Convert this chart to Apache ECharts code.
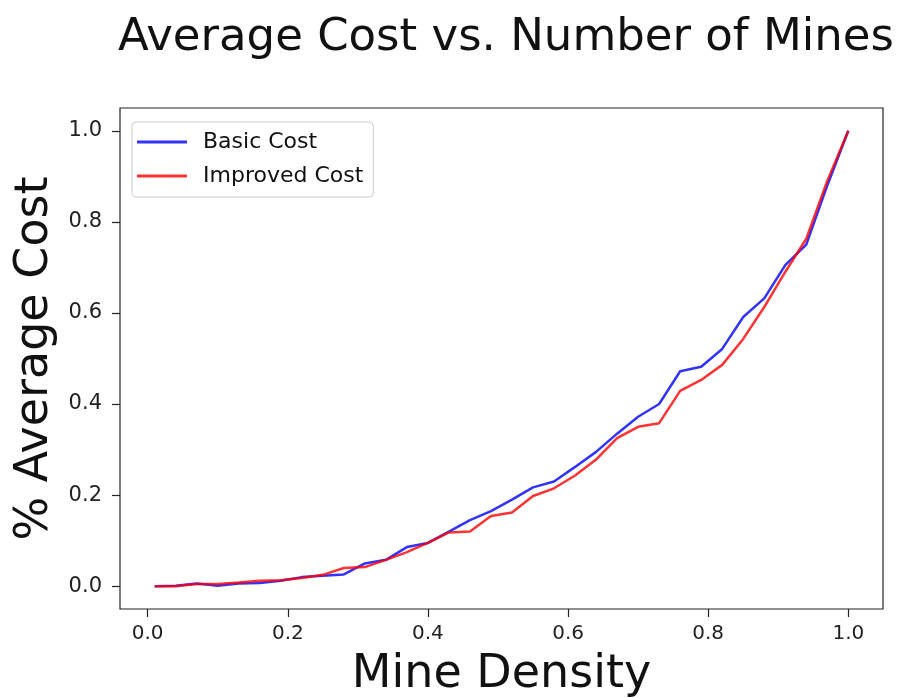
<!DOCTYPE html>
<html>
<head>
<meta charset="utf-8">
<script src="https://cdn.jsdelivr.net/npm/echarts@6/dist/echarts.min.js"></script>
<style>
  html, body { margin: 0; padding: 0; background: #fff; }
  #chart { width: 899px; height: 698px; }
</style>
</head>
<body>
<div id="chart"></div>
<script>
// mine density samples (x)
const density = [
  0.01, 0.04, 0.07, 0.10, 0.13, 0.16, 0.19, 0.22, 0.25, 0.28,
  0.31, 0.34, 0.37, 0.40, 0.43, 0.46, 0.49, 0.52, 0.55, 0.58,
  0.61, 0.64, 0.67, 0.70, 0.73, 0.76, 0.79, 0.82, 0.85, 0.88,
  0.91, 0.94, 0.97, 1.00
];
const basicCost = [
  0.000, 0.001, 0.006, 0.001, 0.006, 0.007, 0.012, 0.020, 0.023, 0.026,
  0.050, 0.058, 0.086, 0.095, 0.120, 0.145, 0.165, 0.190, 0.217, 0.230,
  0.262, 0.295, 0.335, 0.372, 0.400, 0.472, 0.482, 0.521, 0.591, 0.632,
  0.705, 0.750, 0.880, 1.000
];
const improvedCost = [
  0.000, 0.000, 0.005, 0.005, 0.008, 0.012, 0.013, 0.018, 0.025, 0.040,
  0.042, 0.058, 0.075, 0.095, 0.118, 0.120, 0.154, 0.162, 0.198, 0.215,
  0.243, 0.278, 0.325, 0.350, 0.358, 0.429, 0.453, 0.486, 0.543, 0.613,
  0.690, 0.763, 0.890, 1.000
];
const xTicks = [0, 0.2, 0.4, 0.6, 0.8, 1.0];
const yTicks = [0, 0.2, 0.4, 0.6, 0.8, 1.0];

const chart = echarts.init(document.getElementById('chart'));
const font = 'DejaVu Sans';

chart.setOption({
  animation: false,
  title: {
    text: 'Average Cost vs. Number of Mines',
    left: 501,
    textAlign: 'center',
    top: 11,
    textStyle: { fontFamily: font, fontSize: 45, fontWeight: 'normal', color: '#111' }
  },
  legend: {
    orient: 'vertical',
    left: 132,
    top: 122,
    data: ['Basic Cost', 'Improved Cost'],
    icon: 'rect',
    itemWidth: 50,
    itemHeight: 3,
    itemGap: 10,
    padding: [8, 10, 9, 5],
    backgroundColor: '#fff',
    borderColor: '#ccc',
    borderWidth: 1,
    borderRadius: 4,
    textStyle: { fontFamily: font, fontSize: 22, color: '#111', lineHeight: 24, padding: [0, 0, 0, 11] }
  },
  grid: {
    left: 120, right: 16, top: 108, bottom: 89,
    outerBoundsMode: 'none',
    show: true, borderColor: '#222', borderWidth: 1.2, backgroundColor: '#fff'
  },
  xAxis: {
    type: 'value',
    min: -0.0395, max: 1.0495,
    name: 'Mine Density',
    nameLocation: 'middle',
    nameGap: 43,
    nameTextStyle: { fontFamily: font, fontSize: 46, color: '#111' },
    splitLine: { show: false },
    axisLine: { show: false, onZero: false },
    axisTick: { show: true, length: 8, customValues: xTicks, lineStyle: { color: '#222', width: 1.2 } },
    axisLabel: {
      customValues: xTicks, margin: 15,
      fontFamily: font, fontSize: 20, color: '#222',
      formatter: v => v.toFixed(1)
    }
  },
  yAxis: {
    type: 'value',
    min: -0.05, max: 1.05,
    name: '% Average Cost',
    nameLocation: 'middle',
    nameGap: 33,
    nameTextStyle: { fontFamily: font, fontSize: 46, color: '#111' },
    splitLine: { show: false },
    axisLine: { show: false, onZero: false },
    axisTick: { show: true, length: 8, customValues: yTicks, lineStyle: { color: '#222', width: 1.2 } },
    axisLabel: {
      customValues: yTicks, margin: 18,
      fontFamily: font, fontSize: 21, color: '#222',
      formatter: v => v.toFixed(1)
    }
  },
  series: [
    {
      name: 'Basic Cost',
      type: 'line',
      showSymbol: false,
      color: 'rgba(0,0,255,0.8)',
      lineStyle: { width: 2.5, color: 'rgba(0,0,255,0.8)' },
      data: density.map((d, i) => [d, basicCost[i]])
    },
    {
      name: 'Improved Cost',
      type: 'line',
      showSymbol: false,
      color: 'rgba(255,0,0,0.8)',
      lineStyle: { width: 2.5, color: 'rgba(255,0,0,0.8)' },
      data: density.map((d, i) => [d, improvedCost[i]])
    }
  ]
});
</script>
</body>
</html>
